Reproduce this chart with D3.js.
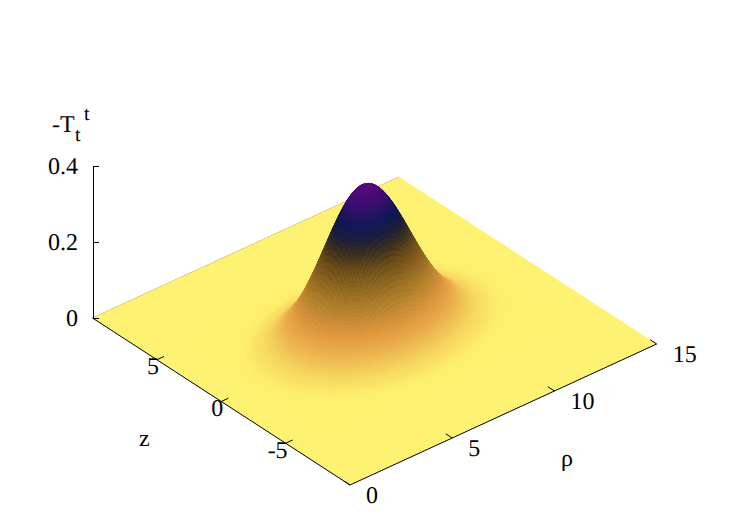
<!DOCTYPE html>
<html>
<head>
<meta charset="utf-8">
<script src="https://cdn.jsdelivr.net/npm/d3@7"></script>
<style>
html, body { margin: 0; padding: 0; background: #fff; }
text { font-family: "Liberation Serif", serif; fill: #000; text-rendering: geometricPrecision; }
</style>
</head>
<body>
<div id="chart-container"></div>
<script>
// T along rho at z = 0, rho = 1.4, 1.5, ... 13.6 (flat zero outside)
var rhoProfile = [
    0, .0019, .0024, .0028, .0034, .0041, .0049, .0058, .0068, .0081, .0095,
    .0111, .0130, .0151, .0175, .0203, .0233, .0268, .0307, .0350, .0397,
    .0450, .0508, .0570, .0639, .0714, .0794, .0881, .0974, .1072, .1177,
    .1287, .1403, .1524, .1650, .1780, .1914, .2050, .2190, .2330, .2470,
    .2611, .2749, .2885, .3017, .3145, .3266, .3381, .3488, .3585, .3673,
    .3749, .3815, .3867, .3908, .3935, .3948,
    .3949, .3938, .3918, .3887, .3846, .3796, .3736, .3668, .3592, .3508,
    .3417, .3319, .3216, .3107, .2995, .2879, .2761, .2640, .2518, .2395,
    .2272, .2151, .2032, .1911, .1795, .1681, .1570, .1463, .1359, .1257,
    .1160, .1068, .0984, .0902, .0825, .0752, .0684, .0621, .0562, .0507,
    .0456, .0410, .0367, .0327, .0292, .0259, .0230, .0203, .0179, .0157,
    .0138, .0120, .0105, .0091, .0079, .0069, .0059, .0051, .0044, .0037,
    .0032, .0027, .0023, .0020, .0017, 0
];
// relative falloff against |z|, |z| = 0, 0.1, ... 6.1
var zProfile = [
    1, .9983, .9931, .9846, .9728, .9578, .9398, .9190, .8955, .8697,
    .8416, .8117, .7801, .7472, .7133, .6785, .6431, .6076, .5720, .5366,
    .5017, .4675, .4341, .4017, .3704, .3404, .3118, .2845, .2588, .2346,
    .2119, .1907, .1711, .1530, .1363, .1210, .1070, .0944, .0829, .0726,
    .0634, .0551, .0478, .0413, .0355, .0304, .0260, .0222, .0188, .0159,
    .0134, .0113, .0095, .0079, .0066, .0054, .0045, .0037, .0030, .0025,
    .0020, 0
];
var rhoTicks = [0, 5, 10, 15];
var zTicks = [-5, 0, 5];
var tTicks = [0, 0.2, 0.4];
var paletteStops = [0, .006, .012, .02, .037, .06, .091, .155, .226, .26, .29, .32, .36, .40];
var paletteColors = ["#fef272", "#fcec6c", "#f9e066", "#f6d862", "#f0c458", "#eaac4c", "#e0963e", "#a87828",
    "#6a4c18", "#3a3020", "#1c1c3c", "#0f1858", "#3c0f70", "#5a0a80"];

var width = 750, height = 525;

var svg = d3.select("#chart-container")
    .append("svg")
    .attr("width", width)
    .attr("height", height)
    .style("display", "block");

// oblique projection: each data axis moves the screen point by its own pair of scales
var xFromRho = d3.scaleLinear().domain([0, 15]).range([0, 306.7]);
var yFromRho = d3.scaleLinear().domain([0, 15]).range([0, -141]);
var xFromZ = d3.scaleLinear().domain([-10, 10]).range([350, 92.5]);
var yFromZ = d3.scaleLinear().domain([-10, 10]).range([485, 318]);
var yFromT = d3.scaleLinear().domain([0, 0.4]).range([0, -152]);
var tAxisScale = d3.scaleLinear().domain([0, 0.4]).range([318, 166]);
var palette = d3.scaleLinear().domain(paletteStops).range(paletteColors);

var project = function (rho, z, t) {
    return [
        xFromZ(z) + xFromRho(rho),
        yFromZ(z) + yFromRho(rho) + yFromT(t)
    ];
};

var nz = zProfile.length - 1;
var rhoAt = function (i) { return 1.4 + i * 0.1; };
var zAt = function (j) { return (j - nz) * 0.1; };
var tAt = function (i, j) { return rhoProfile[i] * zProfile[Math.abs(j - nz)]; };

// back edge sits behind the surface
svg.append("path")
    .attr("d", d3.line()([project(0, 10, 0), project(15, 10, 0)]))
    .attr("fill", "none")
    .attr("stroke", "#c8a050")
    .attr("stroke-width", 1);

// flat part of the surface
svg.append("path")
    .attr("d", d3.line()([project(0, -10, 0), project(15, -10, 0), project(15, 10, 0), project(0, 10, 0)]) + "Z")
    .attr("fill", palette(0));

// far cells first so nearer ones paint over them
var cells = [];
for (var i = rhoProfile.length - 2; i >= 0; i--) {
    for (var j = 2 * nz - 1; j >= 0; j--) {
        cells.push({ i: i, j: j });
    }
}

var quad = d3.line();
svg.append("g")
    .selectAll("path")
    .data(cells)
    .enter()
    .append("path")
    .attr("d", function (d) {
        var corners = [[d.i, d.j], [d.i + 1, d.j], [d.i + 1, d.j + 1], [d.i, d.j + 1]];
        return quad(corners.map(function (c) {
            return project(rhoAt(c[0]), zAt(c[1]), tAt(c[0], c[1]));
        })) + "Z";
    })
    .each(function (d) {
        var mean = (tAt(d.i, d.j) + tAt(d.i + 1, d.j) + tAt(d.i + 1, d.j + 1) + tAt(d.i, d.j + 1)) / 4;
        var color = palette(mean);
        d3.select(this)
            .attr("fill", color)
            .attr("stroke", color)
            .attr("stroke-width", 0.5);
    });

// front border
svg.append("path")
    .attr("d", d3.line()([project(0, 10, 0), project(0, -10, 0), project(15, -10, 0)]))
    .attr("fill", "none")
    .attr("stroke", "#000")
    .attr("stroke-width", 1);

// vertical axis
var tAxis = d3.axisLeft(tAxisScale)
    .tickValues(tTicks)
    .tickFormat(function (d) { return d === 0 ? "0" : d3.format(".1f")(d); })
    .tickSizeInner(-6)
    .tickSizeOuter(-6)
    .tickPadding(15);

var tAxisG = svg.append("g")
    .attr("transform", "translate(93,0)")
    .call(tAxis);
tAxisG.selectAll("text")
    .style("font-family", "Liberation Serif")
    .style("font-size", "24px");
tAxisG.selectAll("path, line").attr("stroke", "#000");

// z ticks run into the surface along rho
zTicks.forEach(function (v) {
    var a = project(0, v, 0), b = project(0.35, v, 0);
    svg.append("line")
        .attr("x1", a[0]).attr("y1", a[1])
        .attr("x2", b[0]).attr("y2", b[1])
        .attr("stroke", "#000");
    svg.append("text")
        .attr("x", a[0] + 2)
        .attr("y", a[1] + 14.5)
        .attr("text-anchor", "end")
        .style("font-size", "24px")
        .text(v);
});

// rho ticks run into the surface along z
rhoTicks.forEach(function (v) {
    var a = project(v, -10, 0), b = project(v, -9.5, 0);
    svg.append("line")
        .attr("x1", a[0]).attr("y1", a[1])
        .attr("x2", b[0]).attr("y2", b[1])
        .attr("stroke", "#000");
    svg.append("text")
        .attr("x", a[0] + 16)
        .attr("y", a[1] + 18)
        .style("font-size", "24px")
        .text(v);
});

// axis titles
svg.append("text").attr("x", 139).attr("y", 446).style("font-size", "24px").text("z");
svg.append("text").attr("x", 561).attr("y", 466).style("font-size", "24px").text("ρ");
svg.append("text").attr("x", 52).attr("y", 132).style("font-size", "24px").text("-T");
svg.append("text").attr("x", 75).attr("y", 141).style("font-size", "20px").text("t");
svg.append("text").attr("x", 84).attr("y", 120).style("font-size", "20px").text("t");
</script>
</body>
</html>
